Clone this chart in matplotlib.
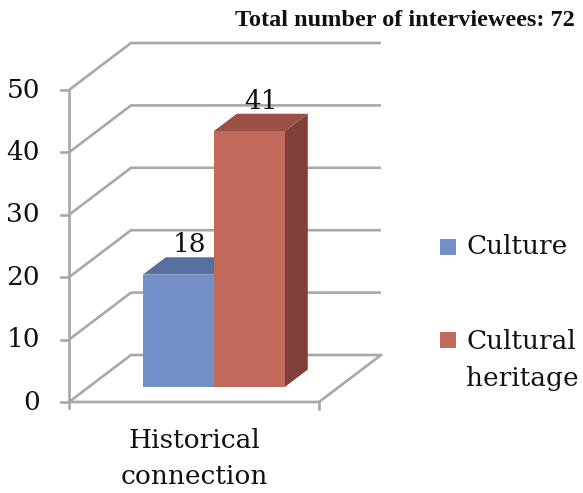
import matplotlib
matplotlib.use("Agg")
import matplotlib.pyplot as plt
from matplotlib.patches import Polygon

# ---- data ----
categories = ["Historical\nconnection"]
series_names = ["Culture", "Cultural\nheritage"]
values = [18, 41]
y_ticks = [0, 10, 20, 30, 40, 50]
title_text = "Total number of interviewees: 72"

# ---- style ----
front_cols = ["#7290c7", "#c1695b"]
top_cols = ["#566f9f", "#9b5045"]
side_cols = ["#46608e", "#823f38"]
grid_col = "#a8a8a8"
serif = "DejaVu Serif"
fs = 19

W, H = 583, 493
fig = plt.figure(figsize=(W / 100, H / 100), dpi=100)
ax = fig.add_axes([0, 0, 1, 1])
ax.set_axis_off()

# data coordinates: x in category units (front plane 0..1), y in value units
px_x = 250.0          # pixels per category unit
px_y = 6.24           # pixels per value unit
x0_px, y0_px = 69, 402
ax.set_xlim(-x0_px / px_x, (W - x0_px) / px_x)
ax.set_ylim(-(H - y0_px) / px_y, y0_px / px_y)

DX = 62 / px_x        # depth offset (x)
DY = 47 / px_y        # depth offset (y)
ymax = y_ticks[-1]

def P(x, y, d):
    return (x + DX * d, y + DY * d)

lw = 1.9
# back wall gridlines + left wall diagonals
for v in y_ticks:
    xs, ys = zip(P(0, v, 0), P(0, v, 1), P(1, v, 1))
    ax.plot(xs, ys, color=grid_col, lw=lw, solid_capstyle="butt", zorder=1)
# floor front edge and right diagonal
xs, ys = zip(P(0, 0, 0), P(1, 0, 0), P(1, 0, 1))
ax.plot(xs, ys, color=grid_col, lw=lw, zorder=1)
# front y-axis line and ticks
ax.plot([0, 0], [-1, ymax], color=grid_col, lw=lw, zorder=1)
tick_len = 8 / px_x
for v in y_ticks:
    ax.plot([-tick_len, 0], [v, v], color=grid_col, lw=lw, zorder=1)
    ax.text(-29 / px_x, v, str(v), ha="right", va="center",
            fontsize=fs, family=serif, color="#111111")
ax.plot([1, 1], [0, -7 / px_y], color=grid_col, lw=lw, zorder=1)

# bars
d0, d1 = 0.32, 0.69
bw = 0.284
n = len(values)
start = 0.5 - n * bw / 2
for i, v in enumerate(values):
    xl = start + i * bw
    xr = xl + bw
    front = [P(xl, 0, d0), P(xr, 0, d0), P(xr, v, d0), P(xl, v, d0)]
    top = [P(xl, v, d0), P(xr, v, d0), P(xr, v, d1), P(xl, v, d1)]
    side = [P(xr, 0, d0), P(xr, 0, d1), P(xr, v, d1), P(xr, v, d0)]
    z = 3 + i
    ax.add_patch(Polygon(side, closed=True, fc=side_cols[i], ec="none", zorder=z))
    ax.add_patch(Polygon(front, closed=True, fc=front_cols[i], ec="none", zorder=z + 0.5))
    ax.add_patch(Polygon(top, closed=True, fc=top_cols[i], ec="none", zorder=z + 0.5))
    lx, ly = P((xl + xr) / 2, v, (d0 + d1) / 2)
    ax.text(lx, ly + 21 / px_y, str(v), ha="center", va="center",
            fontsize=fs, family=serif, color="#111111", zorder=10)

# category label
ax.text(0.5, -57 / px_y, categories[0], ha="center", va="center",
        fontsize=fs, family=serif, color="#111111", linespacing=1.55)

# legend
leg_x = (440 - x0_px) / px_x
leg_rows = [(y0_px - 247) / px_y, (y0_px - 340) / px_y]
sq = 16
for i, name in enumerate(series_names):
    yy = leg_rows[i]
    ax.add_patch(Polygon([(leg_x, yy - sq / 2 / px_y), (leg_x + sq / px_x, yy - sq / 2 / px_y),
                          (leg_x + sq / px_x, yy + sq / 2 / px_y), (leg_x, yy + sq / 2 / px_y)],
                         closed=True, fc=front_cols[i], ec="none"))
    nlines = name.count("\n") + 1
    ycen = yy - (nlines - 1) * 20 / px_y
    ax.text(leg_x + 26 / px_x, ycen, name, ha="left", va="center",
            fontsize=fs, family=serif, color="#111111", linespacing=1.6)

# title
fig.text(575 / W, 1 - 21 / H, title_text, ha="right", va="center",
         fontsize=17.5, fontweight="bold", family="Liberation Serif", color="#111111")

fig.savefig("out.png", dpi=100, facecolor="white")
